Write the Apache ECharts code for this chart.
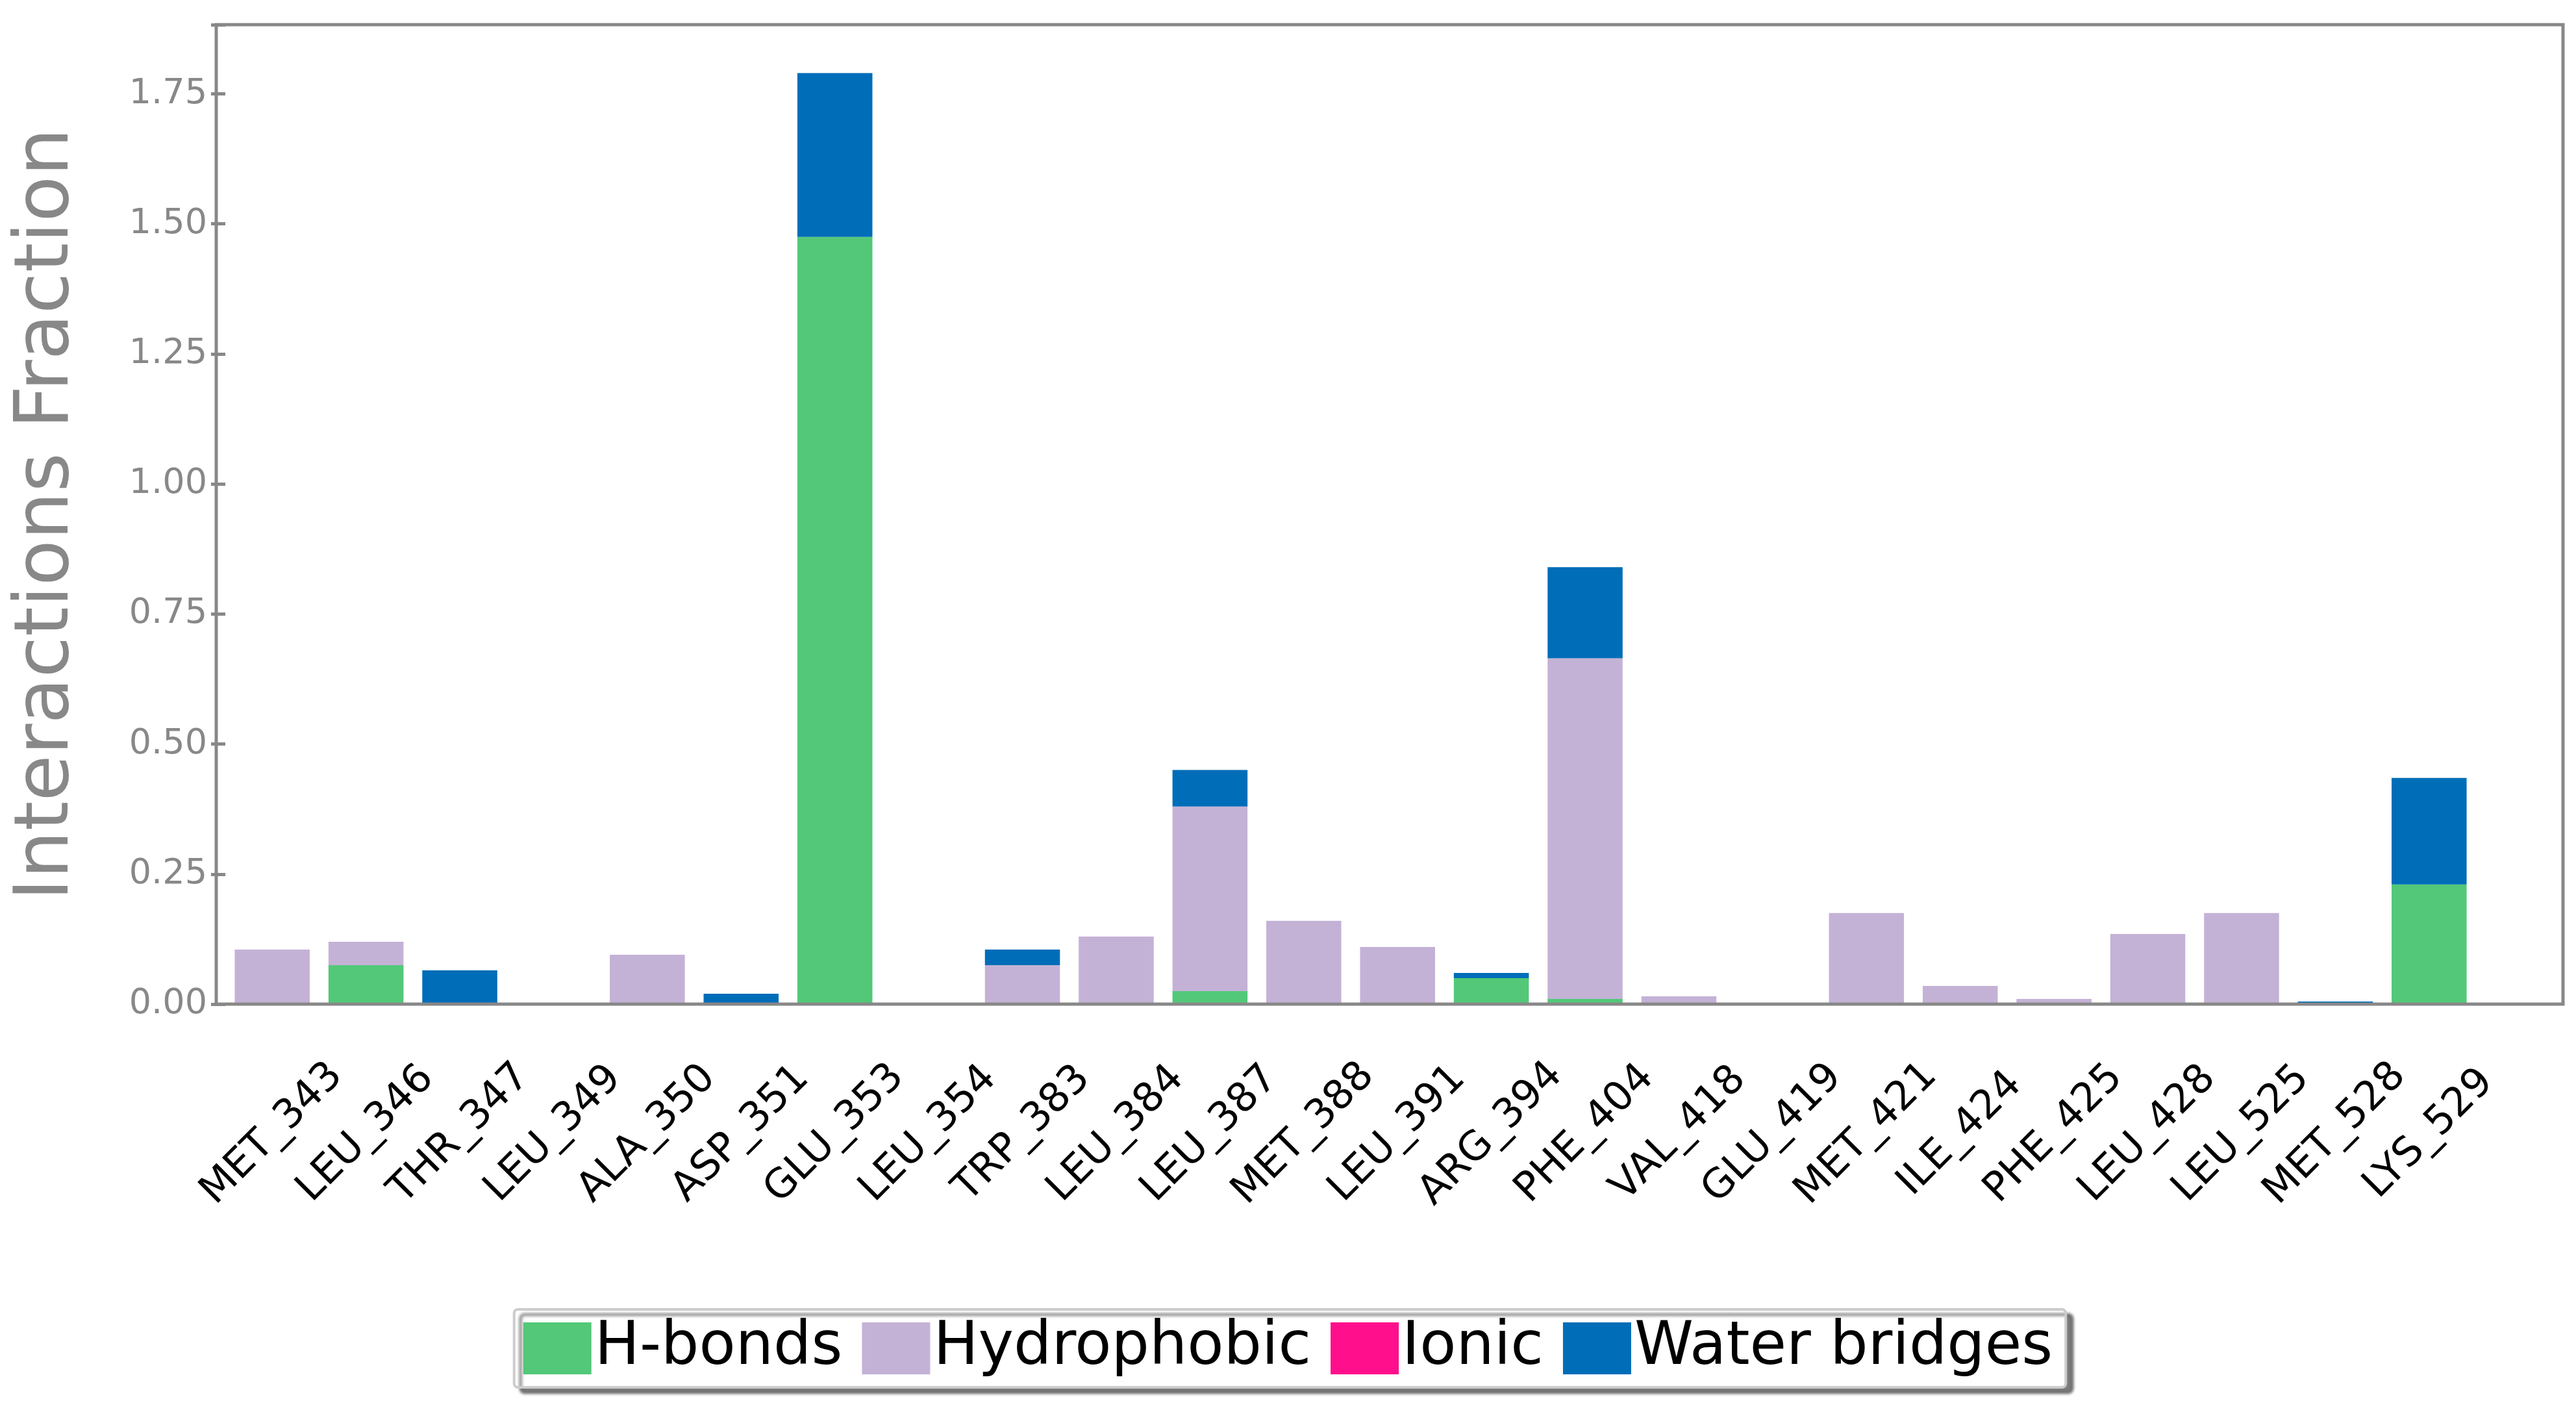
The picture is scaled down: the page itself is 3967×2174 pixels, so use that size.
<!DOCTYPE html>
<html>
<head>
<meta charset="utf-8">
<script src="https://cdn.jsdelivr.net/npm/echarts@6/dist/echarts.min.js"></script>
<style>html,body{margin:0;background:#fff}#chart{width:3967px;height:2174px}</style>
</head>
<body>
<div id="chart"></div>
<script>
const residues = ['MET_343','LEU_346','THR_347','LEU_349','ALA_350','ASP_351','GLU_353','LEU_354','TRP_383','LEU_384','LEU_387','MET_388','LEU_391','ARG_394','PHE_404','VAL_418','GLU_419','MET_421','ILE_424','PHE_425','LEU_428','LEU_525','MET_528','LYS_529']
const hBonds      = [0, 0.075, 0, 0, 0, 0, 1.475, 0, 0, 0, 0.025, 0, 0, 0.05, 0.01, 0, 0, 0, 0, 0, 0, 0, 0, 0.23]
const hydrophobic = [0.105, 0.045, 0, 0, 0.095, 0, 0, 0, 0.075, 0.13, 0.355, 0.16, 0.11, 0, 0.655, 0.015, 0, 0.175, 0.035, 0.01, 0.135, 0.175, 0, 0]
const ionic       = [0, 0, 0, 0, 0, 0, 0, 0, 0, 0, 0, 0, 0, 0, 0, 0, 0, 0, 0, 0, 0, 0, 0, 0]
const waterBridges= [0, 0, 0.065, 0, 0, 0.02, 0.315, 0, 0.03, 0, 0.07, 0, 0, 0.01, 0.175, 0, 0, 0, 0, 0, 0, 0, 0.005, 0.205]

const chart = echarts.init(document.getElementById('chart'))
const font = 'DejaVu Sans'
const bar = (name, data, color) => ({
  name, type: 'bar', stack: 'all', data, barWidth: '80%',
  itemStyle: { color }
})

chart.setOption({
  animation: false,
  textStyle: { fontFamily: font },
  graphic: [{
    type: 'rect', z: 100, silent: true,
    shape: { x: 333, y: 38, width: 3614, height: 1508 },
    style: { fill: 'none', stroke: '#888', lineWidth: 5 }
  }],
  grid: { left: 347, right: 154, top: 38, bottom: 628 },
  legend: {
    bottom: 38, left: 'center',
    itemWidth: 105, itemHeight: 80, itemGap: 30,
    padding: [14, 20, 14, 14],
    borderColor: '#ccc', borderWidth: 4, borderRadius: 6,
    backgroundColor: '#fff',
    shadowColor: 'rgba(0,0,0,0.5)', shadowBlur: 4, shadowOffsetX: 10, shadowOffsetY: 8,
    textStyle: { fontSize: 92, color: '#000', fontFamily: font },
    icon: 'rect'
  },
  xAxis: {
    type: 'category', data: residues,
    axisLine: { show: false },
    axisTick: { alignWithLabel: true, length: 22, lineStyle: { color: '#888', width: 5 } },
    axisLabel: { rotate: 45, fontSize: 62, color: '#000', margin: 200, interval: 0,
      align: 'center', verticalAlign: 'middle' }
  },
  yAxis: {
    type: 'value', min: 0, max: 1.883, interval: 0.25,
    name: 'Interactions Fraction', nameLocation: 'middle', nameGap: 215,
    nameTextStyle: { fontSize: 116, color: '#888' },
    splitLine: { show: false },
    axisLine: { show: false },
    axisTick: { show: true, length: 22, inside: false, lineStyle: { color: '#888', width: 5 } },
    axisLabel: { fontSize: 54, color: '#888', margin: 28,
      formatter: v => v > 1.76 ? '' : v.toFixed(2) }
  },
  series: [
    bar('H-bonds', hBonds, '#52C878'),
    bar('Hydrophobic', hydrophobic, '#C4B2D6'),
    bar('Ionic', ionic, '#FF0F8C'),
    bar('Water bridges', waterBridges, '#006DB8')
  ]
})
</script>
</body>
</html>
